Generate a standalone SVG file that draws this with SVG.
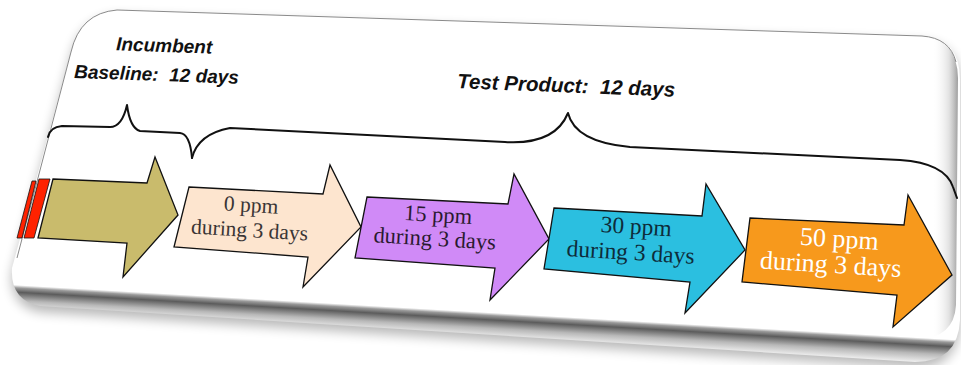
<svg xmlns="http://www.w3.org/2000/svg" width="961" height="365" viewBox="0 0 961 365">
<style>
.arrow{stroke:#111;stroke-width:1.3;stroke-linejoin:miter}
.hdr{font-family:"Liberation Sans",Arial,sans-serif;font-weight:bold;font-style:italic;fill:#111}
.lbl{font-family:"Liberation Serif","Times New Roman",serif;text-anchor:middle}
.brace{fill:none;stroke:#111;stroke-width:2;stroke-linecap:round;stroke-linejoin:round}
</style>
<defs>
<filter id="blur" x="-5%" y="-10%" width="110%" height="130%"><feGaussianBlur stdDeviation="6"/></filter>
<linearGradient id="lip" gradientUnits="userSpaceOnUse" x1="480" y1="312" x2="478.6" y2="336">
<stop offset="0" stop-color="#ffffff"/>
<stop offset="0.12" stop-color="#9a9a9a"/>
<stop offset="0.3" stop-color="#5c5c5c"/>
<stop offset="0.65" stop-color="#b8b8b8"/>
<stop offset="1" stop-color="#ececec"/>
</linearGradient>
<linearGradient id="rside" gradientUnits="userSpaceOnUse" x1="932" y1="0" x2="960" y2="0">
<stop offset="0" stop-color="#ffffff" stop-opacity="0"/>
<stop offset="0.6" stop-color="#d0d0d0" stop-opacity="0.6"/>
<stop offset="1" stop-color="#8a8a8a" stop-opacity="1"/>
</linearGradient>
<clipPath id="faceclip"><path d="M117,10 L922,36 Q957,38 958,78 L956,305 Q954,338 918,339 L42,287 Q14,284 17,256 L71,52 Q80,13 117,10 Z"/></clipPath>
</defs>

<g id="card">
<path d="M117,16 L922,42 Q960,44 960,86 L960,324 Q958,368 915,368 L40,312 Q10,306 12,274 L71,58 Q80,19 117,16 Z" fill="#000" opacity="0.28" filter="url(#blur)"/>
<path d="M117,10 L922,36 Q960,38 960,80 L960,320 Q958,362 915,362 L40,306 Q10,300 12,268 L71,52 Q80,13 117,10 Z" fill="url(#lip)"/>
<path d="M117,10 L922,36 Q957,38 958,78 L956,305 Q954,336 918,337 L42,286 Q14,283 17,256 L71,52 Q80,13 117,10 Z" fill="#fff" opacity="0.85"/>
<rect x="900" y="30" width="61" height="320" fill="url(#rside)" clip-path="url(#faceclip)"/>
<path d="M17,258 L71,52 Q80,13 117,10 L922,36 Q950,38 956,62" fill="none" stroke="#8a8a8a" stroke-width="1"/>
</g>

<g id="connectors">
<path class="brace" d="M48,137 Q50,127 62,126 L110,127 Q122,127 127,105 Q130,128 140,131 L180,133 Q190,134 192,158"/>
<path class="brace" d="M192,158 Q198,134 230,128 L505,142 Q555,145 568,113 Q575,142 630,147 L900,160 Q945,163 953,187 L957,198"/>
</g>

<g id="header-incumbent">
<text class="hdr" font-size="19" transform="rotate(2 164 52)" x="164" y="52" text-anchor="middle">Incumbent</text>
<text class="hdr" font-size="19" transform="rotate(2 74 78)" x="74" y="78" xml:space="preserve">Baseline:  12 days</text>
</g>

<g id="header-test">
<text class="hdr" font-size="20.5" transform="rotate(2.3 457 88)" x="457" y="88" xml:space="preserve">Test Product:  12 days</text>
</g>

<g id="node-incumbent">
<polygon points="32,181 36,181 22,238 17,238" fill="#ff2200" stroke="#111" stroke-width="0.8"/>
<polygon points="39,179 50,179 34,238 24,238" fill="#ff2200" stroke="#111" stroke-width="0.8"/>
<polygon class="arrow" fill="#c9bb6c" points="53,179 147,183 155,157 178,215 123,277 127,243 38,238"/>
</g>

<g id="node-0ppm">
<polygon class="arrow" fill="#fde5cf" points="189,187 323,194 330,165 361,227 303,287 308,257 174,247"/>
<g transform="rotate(3.5 250 224)" class="lbl" fill="#3a3535">
<text x="250" y="212" font-size="21.5">0 ppm</text>
<text x="250" y="237" font-size="21.5">during 3 days</text>
</g>
</g>

<g id="node-15ppm">
<polygon class="arrow" fill="#d08af7" points="367,197 508,204 514,174 549,239 490,300 495,268 355,258"/>
<g transform="rotate(3.5 436 234)" class="lbl" fill="#2a1a30">
<text x="437" y="222" font-size="22.5">15 ppm</text>
<text x="435" y="246" font-size="22.5">during 3 days</text>
</g>
</g>

<g id="node-30ppm">
<polygon class="arrow" fill="#2bbfe0" points="554,208 702,216 706,184 745,250 685,313 690,282 544,269"/>
<g transform="rotate(3.5 632 247)" class="lbl" fill="#0e2c3a">
<text x="635" y="234" font-size="23.5">30 ppm</text>
<text x="631" y="260" font-size="23.5">during 3 days</text>
</g>
</g>

<g id="node-50ppm">
<polygon class="arrow" fill="#f7991c" points="750,218 904,225 908,195 952,275 893,327 897,295 742,282"/>
<g transform="rotate(3.5 834 260)" class="lbl" fill="#ffffff">
<text x="838" y="247" font-size="26">50 ppm</text>
<text x="831" y="273" font-size="26">during 3 days</text>
</g>
</g>
</svg>
